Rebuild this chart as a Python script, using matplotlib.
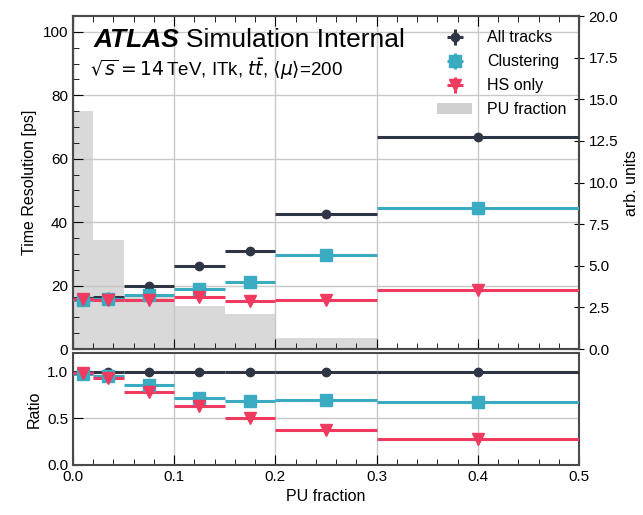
import numpy as np
import matplotlib
matplotlib.use("Agg")
import matplotlib.pyplot as plt
from matplotlib.patches import Patch
from matplotlib.ticker import MultipleLocator

plt.rcParams['font.family'] = ['Liberation Sans', 'DejaVu Sans']
plt.rcParams['mathtext.fontset'] = 'dejavusans'

# ---- data ----
bin_edges = [0.0, 0.02, 0.05, 0.1, 0.15, 0.2, 0.3, 0.5]
bin_centers = [0.01, 0.035, 0.075, 0.125, 0.175, 0.25, 0.4]
all_tracks = [16.0, 16.5, 19.8, 26.3, 31.0, 42.5, 67.0]
clustering = [15.6, 15.7, 17.0, 19.0, 21.2, 29.7, 44.5]
hs_only = [15.7, 15.3, 15.5, 16.5, 15.2, 15.6, 18.5]
ratio_all = [1.0, 1.0, 1.0, 1.0, 1.0, 1.0, 1.0]
ratio_clustering = [0.98, 0.95, 0.86, 0.72, 0.69, 0.70, 0.67]
ratio_hs = [0.99, 0.93, 0.785, 0.63, 0.50, 0.373, 0.28]
pu_fraction = [14.3, 6.55, 3.1, 2.6, 2.1, 0.66, 0.0]

labels = ['All tracks', 'Clustering', 'HS only']
colors = ['#2e3545', '#3aabc0', '#f03a5f']
markers = ['o', 's', 'v']
msizes = [6, 8.5, 8]

centers = np.array(bin_centers)
edges = np.array(bin_edges)
xerr = [centers - edges[:-1], edges[1:] - centers]

FS = 11
fig = plt.figure(figsize=(6.43, 5.15), dpi=100)
ax = fig.add_axes([0.1135, 0.3223, 0.787, 0.6466])
rax = fig.add_axes([0.1135, 0.0971, 0.787, 0.2175])
ax2 = ax.twinx()

# PU fraction histogram on right axis
ax2.bar(edges[:-1], pu_fraction, width=np.diff(edges), align='edge',
        color='#d9d9d9', edgecolor='none', zorder=0)
ax2.set_ylim(0, 20)
ax2.yaxis.set_major_locator(MultipleLocator(2.5))
ax2.set_ylabel('arb. units', fontsize=11.5)
ax2.tick_params(axis='y', direction='inout', length=7, labelsize=FS)

# put main axes in front of ax2
ax.set_zorder(ax2.get_zorder() + 1)
ax.patch.set_visible(False)

series = [all_tracks, clustering, hs_only]
ratios = [ratio_all, ratio_clustering, ratio_hs]
for vals, rvals, c, m, ms in zip(series, ratios, colors, markers, msizes):
    ax.errorbar(centers, vals, xerr=xerr, fmt=m, color=c, ms=ms,
                elinewidth=2.2, capsize=0, zorder=3)
    rax.errorbar(centers, rvals, xerr=xerr, fmt=m, color=c, ms=ms,
                 elinewidth=2.2, capsize=0, zorder=3)

# legend proxies
handles = []
for lab, c, m, ms in zip(labels, colors, markers, msizes):
    h = ax.errorbar([-1], [-1], xerr=[0.01], yerr=[1.0], fmt=m, color=c,
                    ms=ms, elinewidth=2.2, capsize=0, label=lab)
    handles.append(h)
handles.append(Patch(facecolor='#d0d0d0', edgecolor='none', label='PU fraction'))
leg = ax.legend(handles=handles, loc='upper right', frameon=False,
                fontsize=11.5, bbox_to_anchor=(1.0, 0.995),
                handlelength=2.2, labelspacing=0.56, borderpad=0.3,
                handletextpad=0.9)

ax.set_xlim(0, 0.5)
ax.set_ylim(0, 105)
ax.yaxis.set_major_locator(MultipleLocator(20))
ax.yaxis.set_minor_locator(MultipleLocator(5))
ax.xaxis.set_major_locator(MultipleLocator(0.1))
ax.xaxis.set_minor_locator(MultipleLocator(0.02))
ax.set_ylabel('Time Resolution [ps]', fontsize=11.5)
ax.grid(True, which='major', color='#c8c8c8', lw=1.0)
ax.tick_params(which='both', direction='in', top=True, labelsize=FS)
ax.tick_params(which='major', length=7)
ax.tick_params(which='minor', length=4)
ax.tick_params(axis='x', which='both', labelbottom=False)

ax.text(0.04, 0.965, 'ATLAS', transform=ax.transAxes, fontsize=19,
        fontweight='bold', fontstyle='italic', va='top')
ax.text(0.223, 0.965, 'Simulation Internal', transform=ax.transAxes,
        fontsize=19, va='top')
ax.text(0.033, 0.878, r'$\sqrt{s}=14\,$TeV, ITk, $t\bar{t}$, $\langle\mu\rangle$=200',
        transform=ax.transAxes, fontsize=13.5, va='top')

rax.set_xlim(0, 0.5)
rax.set_ylim(0, 1.2)
rax.yaxis.set_major_locator(MultipleLocator(0.5))
rax.xaxis.set_major_locator(MultipleLocator(0.1))
rax.xaxis.set_minor_locator(MultipleLocator(0.02))
rax.grid(True, which='major', color='#c8c8c8', lw=1.0)
rax.tick_params(which='both', direction='in', labelsize=FS)
rax.tick_params(which='major', length=7)
rax.tick_params(which='minor', length=4)
rax.set_xlabel('PU fraction', fontsize=11.5)
rax.set_ylabel('Ratio', fontsize=11.5)

for a in (ax, ax2, rax):
    for s in a.spines.values():
        s.set_color('#4a4a4a')
        s.set_linewidth(1.5)

fig.savefig('out.png', dpi=100)
